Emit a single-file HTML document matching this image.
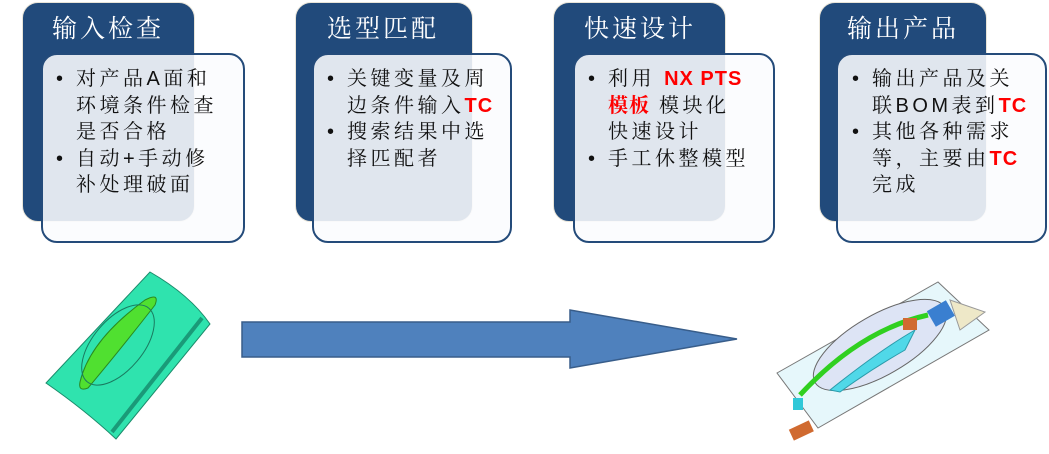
<!DOCTYPE html>
<html><head><meta charset="utf-8"><style>
body{margin:0;width:1049px;height:454px;background:#fff;position:relative;overflow:hidden;font-family:"Liberation Sans","Noto Serif CJK SC",serif;}
.d{position:absolute;top:2px;height:220px;background:#214a7b;border-radius:16px;border:1px solid #e8e4d8;box-sizing:border-box}
.t{position:absolute;top:12px;color:#fff;font-size:25px;letter-spacing:3px;line-height:34px;white-space:nowrap}
.l{position:absolute;top:53px;height:190px;background:rgba(250,252,254,0.88);border:2px solid #244b7a;border-radius:16px;box-sizing:border-box}
.x{position:absolute;font-size:20px;line-height:26.5px;color:#111;letter-spacing:3.5px;white-space:nowrap}
.x p{margin:0;position:relative;padding-left:20px}
.x p:before{content:"•";position:absolute;left:0;top:0}
.r{color:#f00;font-weight:bold;letter-spacing:1px}
</style></head><body>
<div class="d" style="left:22px;width:173px"></div><div class="t" style="left:52px">输入检查</div>
<div class="l" style="left:41px;width:204px"></div>
<div class="x" style="left:56px;top:66px"><p>对产品A面和<br>环境条件检查<br>是否合格</p><p>自动+手动修<br>补处理破面</p></div>

<div class="d" style="left:295px;width:178px"></div><div class="t" style="left:327px">选型匹配</div>
<div class="l" style="left:312px;width:200px"></div>
<div class="x" style="left:327px;top:66px"><p>关键变量及周<br>边条件输入<span class="r">TC</span></p><p>搜索结果中选<br>择匹配者</p></div>

<div class="d" style="left:553px;width:173px"></div><div class="t" style="left:584px">快速设计</div>
<div class="l" style="left:573px;width:202px"></div>
<div class="x" style="left:588px;top:66px"><p>利用 <span class="r">NX PTS</span><br><span class="r">模板</span> 模块化<br>快速设计</p><p>手工休整模型</p></div>

<div class="d" style="left:819px;width:168px"></div><div class="t" style="left:847px">输出产品</div>
<div class="l" style="left:836px;width:211px"></div>
<div class="x" style="left:852px;top:66px"><p>输出产品及关<br>联BOM表到<span class="r">TC</span></p><p>其他各种需求<br>等，主要由<span class="r">TC</span><br>完成</p></div>

<svg width="1049" height="454" style="position:absolute;left:0;top:0">
<polygon points="242,322 570,322 570,310 737,339 570,368 570,357 242,357" fill="#4f81bd" stroke="#385d8a" stroke-width="1.5"/>
<g>
<path d="M150,272 Q190,295 210,324 L116,439 Q85,410 46,383 Z" fill="#2fe3ae" stroke="#1a8a6a" stroke-width="1"/>
<path d="M202,318 L112,432" stroke="#1a9a78" stroke-width="4"/>
<path d="M80,382 Q90,340 145,300 Q160,292 155,305 Q120,350 88,388 Q78,392 80,382Z" fill="#50e030" stroke="#2a8a20"/>
<ellipse cx="118" cy="345" rx="48" ry="25" transform="rotate(-50 118 345)" fill="none" stroke="#1a7a60" stroke-width="1"/>
</g>
<g>
<polygon points="777,373 938,282 989,330 818,428" fill="#e6f7fb" stroke="#777" stroke-width="1"/>
<ellipse cx="880" cy="345" rx="75" ry="30" transform="rotate(-30 880 345)" fill="#dde4f5" stroke="#666" stroke-width="1"/>
<path d="M800,395 Q860,330 928,315" stroke="#30d020" stroke-width="5" fill="none"/>
<path d="M830,390 Q880,350 915,330 L905,350 Q870,370 840,392Z" fill="#50d8e8" stroke="#2a9aaa"/>
<rect x="930" y="305" width="22" height="18" fill="#3a7fd0" transform="rotate(-30 940 314)"/>
<rect x="903" y="318" width="14" height="12" fill="#d06a30"/>
<rect x="790" y="425" width="22" height="12" fill="#d06a30" transform="rotate(-25 800 430)"/>
<rect x="793" y="398" width="10" height="12" fill="#30c8d8"/>
<polygon points="950,300 985,312 960,330" fill="#eee8c8" stroke="#999"/>
</g>
</svg>
</body></html>
